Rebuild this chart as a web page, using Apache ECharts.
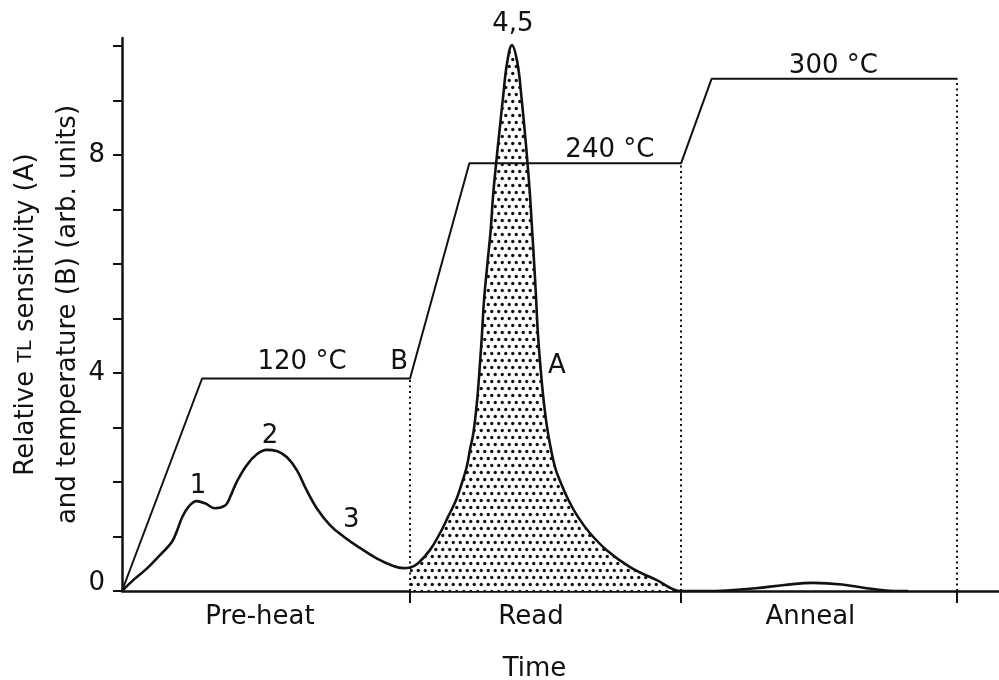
<!DOCTYPE html>
<html>
<head>
<meta charset="utf-8">
<script src="https://cdn.jsdelivr.net/npm/echarts@6/dist/echarts.min.js"></script>
<style>
  html, body { margin: 0; padding: 0; background: #fff; }
  #chart { width: 999px; height: 680px; }
</style>
</head>
<body>
<div id="chart"></div>
<script>
// TL glow curve (A): time (arb.) and relative sensitivity
const glowTime = [
  0, 0.39, 0.86, 1.32, 1.73, 1.92, 2.07, 2.3, 2.59, 2.88, 3.23, 3.58, 3.75, 3.98, 4.33, 4.68, 5.02,
  5.37, 5.72, 6.07, 6.41, 6.76, 7.22, 7.69, 8.26, 8.84, 9.42, 9.77, 10.0,
  10.28, 10.69, 11.04, 11.32, 11.6, 11.8, 11.97, 12.08, 12.2, 12.33, 12.42, 12.5, 12.57, 12.69, 12.8,
  12.88, 12.99, 13.11, 13.23, 13.37, 13.54,
  13.73, 13.87, 13.98, 14.08, 14.17, 14.24, 14.31, 14.38, 14.44, 14.53, 14.64, 14.79, 15.03, 15.24, 15.5,
  15.83, 16.25, 16.83, 17.64, 18.57, 19.41,
  20.2, 21.0, 22.0, 23.0, 24.0, 25.0, 26.0, 26.8, 27.3];
const glowValue = [
  0, 0.2, 0.41, 0.66, 0.9, 1.12, 1.33, 1.54, 1.65, 1.61, 1.52, 1.57, 1.72, 2.0, 2.31, 2.51, 2.59,
  2.57, 2.46, 2.22, 1.85, 1.52, 1.21, 1.0, 0.79, 0.6, 0.46, 0.42, 0.43,
  0.51, 0.75, 1.06, 1.36, 1.67, 1.98, 2.28, 2.59, 2.9, 3.5, 4.11, 4.73, 5.34, 6.02, 6.62,
  7.23, 7.85, 8.46, 9.06, 9.69, 10.02,
  9.69, 9.06, 8.46, 7.85, 7.23, 6.62, 6.02, 5.34, 4.73, 4.11, 3.5, 2.9, 2.28, 1.98, 1.67,
  1.36, 1.06, 0.75, 0.44, 0.2, 0.0,
  0.0, 0.01, 0.05, 0.11, 0.15, 0.12, 0.04, 0.0, 0.0];

// Temperature programme (B)
const tempTime = [0, 2.78, 10.0, 12.06, 19.41, 20.47, 29.0];
const tempValue = [0, 3.9, 3.9, 7.85, 7.85, 9.4, 9.4];

// Stage boundaries and the temperature reached at each
const stageEnd = [10.0, 19.41, 29.0];
const stageTemp = [3.9, 7.85, 9.4];

// Stage names along the time axis
const phaseNames = ['Pre-heat', 'Read', 'Anneal'];
const phaseCentre = [4.79, 14.2, 23.9];

// Value axis ticks and labels
const yTicks = [0, 1, 2, 3, 4, 5, 6, 7, 8, 9, 10];
const yLabels = [0, 4, 8];

// Text annotations in data coordinates
const noteText = ['120 °C', 'B', '240 °C', '300 °C', '4,5', 'A', '1', '2', '3'];
const noteTime = [6.25, 9.62, 16.94, 24.7, 13.57, 15.1, 2.64, 5.14, 7.96];
const noteValue = [4.2, 4.2, 8.09, 9.63, 10.4, 4.13, 1.93, 2.84, 1.29];

const readStart = stageEnd[0];
const readEnd = stageEnd[1];

// staggered stipple tile for the read-out integral
function makeDots() {
  const c = document.createElement('canvas');
  c.width = 7; c.height = 14;
  const g = c.getContext('2d');
  g.fillStyle = '#ffffff';
  g.fillRect(0, 0, 7, 14);
  g.fillStyle = '#111111';
  [[1.75, 3.5], [5.25, 10.5]].forEach(function (p) {
    g.beginPath();
    g.arc(p[0], p[1], 1.65, 0, Math.PI * 2);
    g.fill();
  });
  return c;
}

const glowData = glowTime.map((t, i) => [t, glowValue[i]]);
const readData = glowData.filter(p => p[0] >= readStart && p[0] <= readEnd);
const tempData = tempTime.map((t, i) => [t, tempValue[i]]);
const noteData = noteText.map((s, i) => ({ name: s, value: [noteTime[i], noteValue[i]] }));
const stageLines = stageEnd.map((t, i) => [{ coord: [t, 0] }, { coord: [t, stageTemp[i]] }]);

const FONT = 'DejaVu Sans';
const INK = '#111111';
const SMOOTH = 0.4;

const chart = echarts.init(document.getElementById('chart'), null, { renderer: 'canvas' });

chart.setOption({
  backgroundColor: '#ffffff',
  animation: false,
  grid: { left: 122, right: 0, top: 38, bottom: 89, outerBoundsMode: 'none', containLabel: false },
  xAxis: {
    type: 'value',
    min: 0,
    max: 30.45,
    name: 'Time',
    nameLocation: 'middle',
    nameGap: 65,
    nameMoveOverlap: false,
    nameTextStyle: { fontFamily: FONT, fontSize: 26, color: INK, padding: [0, 52, 0, 0] },
    axisLine: { lineStyle: { color: INK, width: 2.5 } },
    axisTick: { show: true, customValues: stageEnd, length: 12, lineStyle: { color: INK, width: 2 } },
    axisLabel: {
      customValues: phaseCentre,
      margin: 13,
      fontFamily: FONT,
      fontSize: 26,
      color: INK,
      formatter: function (v) {
        const i = phaseCentre.indexOf(v);
        return i >= 0 ? phaseNames[i] : '';
      }
    },
    splitLine: { show: false }
  },
  yAxis: {
    type: 'value',
    min: 0,
    max: 10.15,
    name: 'Relative {s|TL} sensitivity (A)\nand temperature (B) (arb. units)',
    nameLocation: 'middle',
    nameRotate: 90,
    nameGap: 33,
    nameMoveOverlap: false,
    nameTextStyle: {
      fontFamily: FONT, fontSize: 26, color: INK, lineHeight: 42,
      rich: { s: { fontFamily: FONT, fontSize: 19, color: INK, lineHeight: 42 } }
    },
    axisLine: { show: true, lineStyle: { color: INK, width: 2.5 } },
    axisTick: { show: true, customValues: yTicks, length: 9, lineStyle: { color: INK, width: 2 } },
    axisLabel: {
      customValues: yLabels,
      margin: 17,
      fontFamily: FONT,
      fontSize: 26,
      color: INK,
      formatter: function (v) { return v === 0 ? '{z|0}' : String(v); },
      rich: { z: { fontFamily: FONT, fontSize: 26, color: INK, padding: [0, 0, 16, 0] } }
    },
    splitLine: { show: false }
  },
  series: [
    {
      name: 'Read integral',
      type: 'line',
      data: readData,
      smooth: SMOOTH,
      showSymbol: false,
      symbol: 'none',
      lineStyle: { width: 0 },
      areaStyle: { color: { image: makeDots(), repeat: 'repeat' }, opacity: 1 },
      z: 1,
      silent: true
    },
    {
      name: 'Temperature (B)',
      type: 'line',
      data: tempData,
      symbol: 'none',
      lineStyle: { color: INK, width: 2 },
      z: 3,
      markLine: {
        silent: true,
        symbol: 'none',
        label: { show: false },
        lineStyle: { color: INK, width: 2, type: [2, 3.5] },
        data: stageLines
      }
    },
    {
      name: 'TL sensitivity (A)',
      type: 'line',
      data: glowData,
      smooth: SMOOTH,
      symbol: 'none',
      lineStyle: { color: INK, width: 2.6 },
      z: 4
    },
    {
      name: 'Notes',
      type: 'scatter',
      data: noteData,
      symbolSize: 0,
      clip: false,
      silent: true,
      z: 5,
      itemStyle: { opacity: 1 },
      label: {
        show: true,
        position: 'inside',
        fontFamily: FONT,
        fontSize: 26,
        color: INK,
        textBorderWidth: 0,
        formatter: function (p) { return p.name; }
      }
    }
  ]
});
</script>
</body>
</html>
